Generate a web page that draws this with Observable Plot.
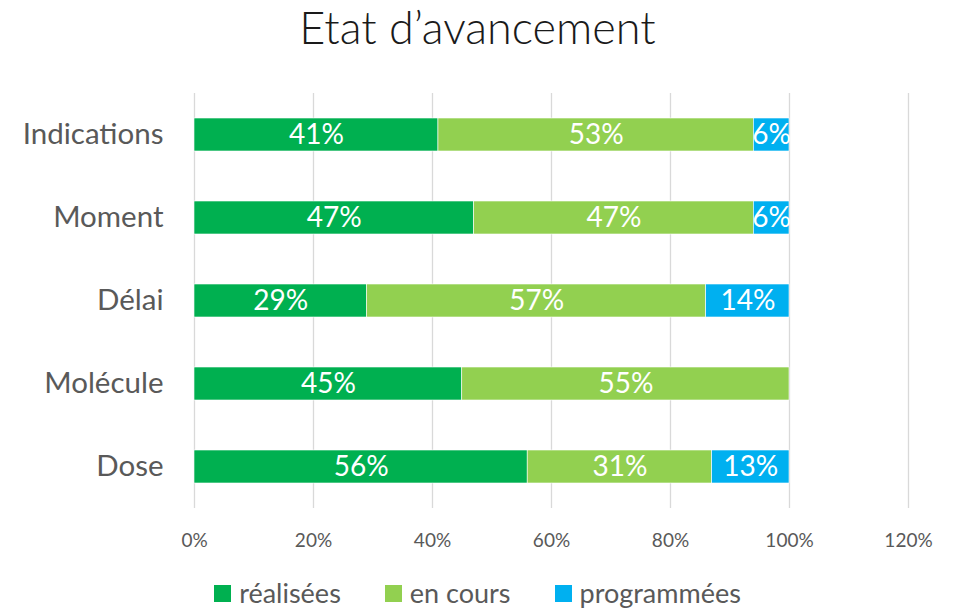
<!DOCTYPE html>
<html>
<head>
<meta charset="utf-8">
<script src="https://cdn.jsdelivr.net/npm/d3@7"></script>
<script src="https://cdn.jsdelivr.net/npm/@observablehq/plot@0.6"></script>
<style>
  html, body { margin: 0; padding: 0; background: #fff; }
  body { width: 955px; height: 611px; position: relative; overflow: hidden; font-family: Lato, "Open Sans", sans-serif; }
  #title { position: absolute; left: 0; top: 1px; width: 955px; text-align: center; font-size: 45px; font-weight: 300; color: #1a1a1a; line-height: 52px; }
  #chart { position: absolute; left: 0; top: 60px; }
  #legend { position: absolute; left: 0; top: 578px; width: 955px; display: flex; justify-content: center; gap: 44px; font-size: 27px; color: #595959; line-height: 30px; }
  .item { display: flex; align-items: center; gap: 8px; }
  .sw { width: 17px; height: 17px; display: inline-block; }
</style>
</head>
<body>
<div id="title">Etat d’avancement</div>
<div id="chart"></div>
<div id="legend"></div>
<script>
const categories = ["Indications", "Moment", "Délai", "Molécule", "Dose"];
const series = ["réalisées", "en cours", "programmées"];
const realisees = [41, 47, 29, 45, 56];
const enCours = [53, 47, 57, 55, 31];
const programmees = [6, 6, 14, 0, 13];
const xTicks = [0, 20, 40, 60, 80, 100, 120];
const colors = ["#00B050", "#92D050", "#00B0F0"];

const seriesValues = [realisees, enCours, programmees];
const data = [];
categories.forEach((c, i) => {
  series.forEach((s, j) => {
    data.push({cat: c, series: s, value: seriesValues[j][i]});
  });
});

const chart = Plot.plot({
  width: 955,
  height: 505,
  marginTop: 33,
  marginBottom: 57,
  marginLeft: 194,
  marginRight: 47,
  style: {fontFamily: "Lato, 'Open Sans', sans-serif", background: "white"},
  x: {domain: [0, 120], label: null},
  y: {domain: categories, type: "band", paddingInner: 0.6, paddingOuter: 0.3, label: null},
  color: {domain: series, range: colors},
  marks: [
    Plot.gridX(xTicks, {stroke: "#D9D9D9", strokeOpacity: 1, strokeWidth: 1.3}),
    Plot.barX(data, Plot.stackX({x: "value", y: "cat", z: "series", fill: "series", stroke: "white", strokeWidth: 0.6, order: null})),
    Plot.text(data.filter(d => d.value > 0), Plot.stackX({x: "value", y: "cat", z: "series", text: d => d.value + "%", fill: "white", fontSize: 28, order: null})),
    Plot.axisX({ticks: xTicks, tickSize: 0, tickPadding: 25, tickFormat: d => d + "%", fontSize: 19, color: "#595959", label: null}),
    Plot.axisY({tickSize: 0, tickPadding: 31, fontSize: 29.5, color: "#595959", label: null})
  ]
});
document.getElementById("chart").appendChild(chart);

const legend = document.getElementById("legend");
series.forEach((s, i) => {
  const item = document.createElement("div");
  item.className = "item";
  const sw = document.createElement("span");
  sw.className = "sw";
  sw.style.background = colors[i];
  const t = document.createElement("span");
  t.textContent = s;
  item.appendChild(sw);
  item.appendChild(t);
  legend.appendChild(item);
});
</script>
</body>
</html>
